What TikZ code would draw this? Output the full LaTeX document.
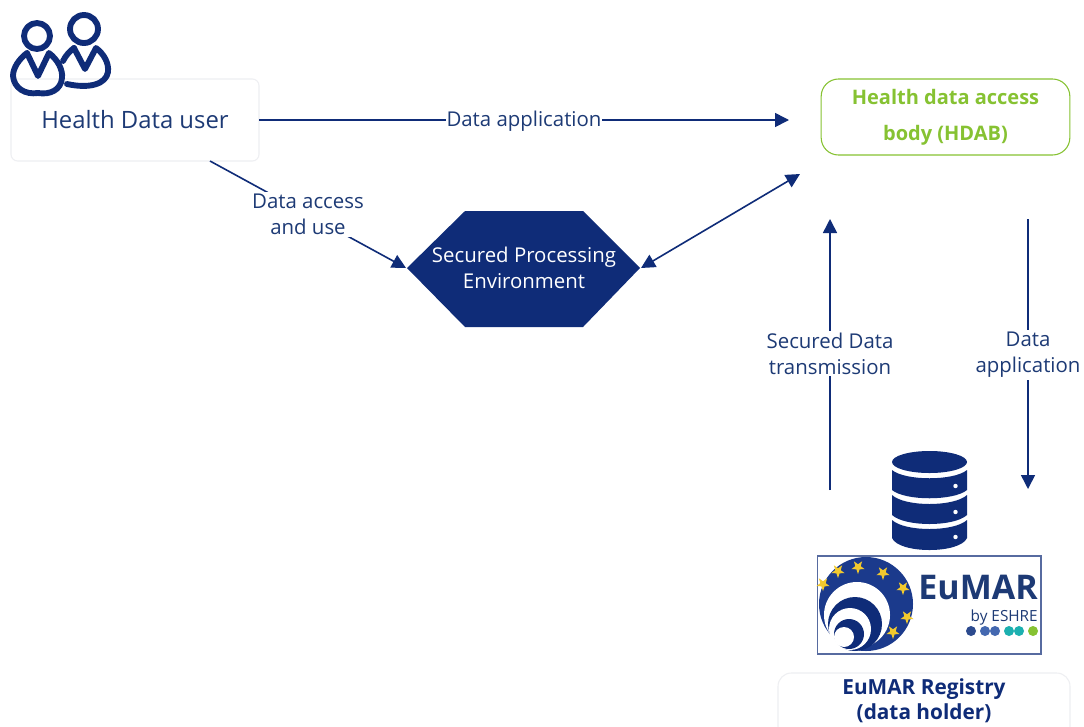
\documentclass[tikz,border=0pt]{standalone}
\usepackage{fontspec}
\setmainfont{Open Sans}
\usetikzlibrary{arrows.meta,calc}
\definecolor{navy}{HTML}{0F2C78}
\definecolor{inkblue}{HTML}{1D3A75}
\definecolor{limeg}{HTML}{86C232}
\definecolor{softline}{HTML}{EEEFF2}
\definecolor{star}{HTML}{F2C92E}
\definecolor{ballblue}{HTML}{1B3A8C}
\definecolor{dotone}{HTML}{2C4A8E}
\definecolor{dottwo}{HTML}{4468B0}
\definecolor{dotthree}{HTML}{1CB0B0}
\tikzset{
  px/.style={x=0.75pt,y=-0.75pt},
  softbox/.style={draw=softline,line width=0.8pt,rounded corners=5pt,fill=white,inner sep=0pt},
  lbl/.style={fill=white,inner sep=0.4pt,text=inkblue,font=\fontsize{15.3}{19.5}\selectfont,align=center},
  conn/.style={draw=navy,line width=1.2pt,-{Triangle[length=10.5pt,width=10.5pt]}},
  conntwo/.style={draw=navy,line width=1.2pt,{Triangle[length=10.5pt,width=10.5pt]}-{Triangle[length=10.5pt,width=10.5pt]}},
  person/.style={draw=navy,line width=4.4pt,line join=round,line cap=round},
  tier/.style={fill=navy,draw=none}
}
\newcommand{\fivestar}[2]{\fill[star] ($(#1,#2)+(90:7)$) -- ($(#1,#2)+(126:2.8)$) -- ($(#1,#2)+(162:7)$) -- ($(#1,#2)+(198:2.8)$) -- ($(#1,#2)+(234:7)$) -- ($(#1,#2)+(270:2.8)$) -- ($(#1,#2)+(306:7)$) -- ($(#1,#2)+(342:2.8)$) -- ($(#1,#2)+(18:7)$) -- ($(#1,#2)+(54:2.8)$) -- cycle;}
\begin{document}
\begin{tikzpicture}[px]
\useasboundingbox (0,0) rectangle (1084,726);
\fill[white] (0,0) rectangle (1084,726);

% boxes
\node[softbox,minimum width=186pt,minimum height=61.5pt,text=inkblue,font=\fontsize{17.9}{20}\selectfont] (user) at (135,120) {Health Data user};
\node[softbox,draw=limeg,rounded corners=13pt,minimum width=186.5pt,minimum height=57pt,text=limeg,align=center,font=\bfseries\fontsize{15}{27}\selectfont] (hdab) at (945.5,117) {Health data access\\body (HDAB)};
\fill[navy] (407,268) -- (465,211) -- (583,211) -- (640,268) -- (583,327) -- (465,327) -- cycle;
\node[text=white,align=center,font=\fontsize{15.3}{19.5}\selectfont] (spe) at (524,268) {Secured Processing\\Environment};
\draw[softbox,rounded corners=10pt] (778,740) -- (778,673) -- (1070,673) -- (1070,740);
\node[text=navy,align=center,font=\bfseries\fontsize{15.6}{19}\selectfont] (reg) at (924,701) {EuMAR Registry\\(data holder)};

% connector ends
\coordinate (a1) at (259,120);
\coordinate (a2) at (789,120);
\coordinate (b1) at (210,161);
\coordinate (b2) at (406,268);
\coordinate (c1) at (641,268);
\coordinate (c2) at (800,174);
\coordinate (d1) at (830,490);
\coordinate (d2) at (830,219);
\coordinate (e1) at (1028,219);
\coordinate (e2) at (1028,489);

\draw[conn] (a1) -- node[lbl,yshift=-0.6pt] (la) {Data application} (a2);
\draw[conn] (b1) -- node[lbl,inner sep=1.5pt] (lb) {Data access\\and use} (b2);
\draw[conntwo] (c1) -- (c2);
\draw[conn] (d1) -- node[lbl,inner sep=1.5pt,yshift=0.8pt] (ld) {Secured Data\\transmission} (d2);
\draw[conn] (e1) -- node[lbl,inner sep=1.5pt,yshift=-0.8pt] (le) {Data\\application} (e2);

% people icon
\draw[person] (37,36) circle (13);
\draw[person] (84,29) circle (14);
\draw[person] (27,53) -- (38,76) -- (49,53) .. controls (58,60) and (63,70) .. (62,78)
  .. controls (61,90) and (50,95) .. (38,93) .. controls (25,95) and (14,88) .. (13,76)
  .. controls (13,68) and (19,59) .. (27,53);
\draw[person] (74,48) -- (85,69) -- (96,48) .. controls (104,54) and (109,63) .. (108,72)
  .. controls (106,84) and (90,89) .. (67,84);
\draw[person] (74,48) .. controls (70,51) and (66,55) .. (63,61);

% database icon
\fill[tier] (929.5,462) ellipse[x radius=37.5,y radius=11];
\fill[tier] (892,470) .. controls (905,481) and (954,481) .. (967,470) -- (967,490) .. controls (954,501) and (905,501) .. (892,490) -- cycle;
\fill[tier] (892,495) .. controls (905,507) and (954,507) .. (967,495) -- (967,515) .. controls (954,527) and (905,527) .. (892,515) -- cycle;
\fill[tier] (892,520) .. controls (905,532) and (954,532) .. (967,520) -- (967,538) .. controls (960,554) and (899,554) .. (892,538) -- cycle;
\fill[white] (955.5,486) circle (2.2) (955.5,512) circle (2.2) (955.5,537) circle (2.2);

% logo
\draw[draw=navy!70,line width=0.8pt,fill=white] (817.5,556) rectangle (1041,654);
\fill[ballblue] (866,604) circle (47);
\fill[white] (857,615) circle (33);
\fill[navy] (855,624) circle (27);
\fill[white] (850,629) circle (21);
\fill[navy] (849,634) circle (15);
\fill[white] (844,637) circle (10);
\fivestar{838}{571}
\fivestar{858}{567}
\fivestar{883}{573}
\fivestar{903}{588}
\fivestar{907}{617}
\fivestar{893}{632}
\fivestar{823}{584}
\node[text=inkblue,font=\bfseries\fontsize{25.5}{26}\selectfont,anchor=base east,inner sep=0pt] (eu) at (1038,599) {EuMAR};
\node[text=inkblue,font=\fontsize{11.5}{11}\selectfont,anchor=base east,inner sep=0pt] (by) at (1038,621) {by ESHRE};
\fill[dotone] (971,631) circle (5);
\fill[dottwo] (985,631) circle (5) (995,631) circle (5);
\fill[dotthree] (1009,631) circle (5) (1019,631) circle (5);
\fill[limeg] (1033,631) circle (5);
\end{tikzpicture}
\end{document}
